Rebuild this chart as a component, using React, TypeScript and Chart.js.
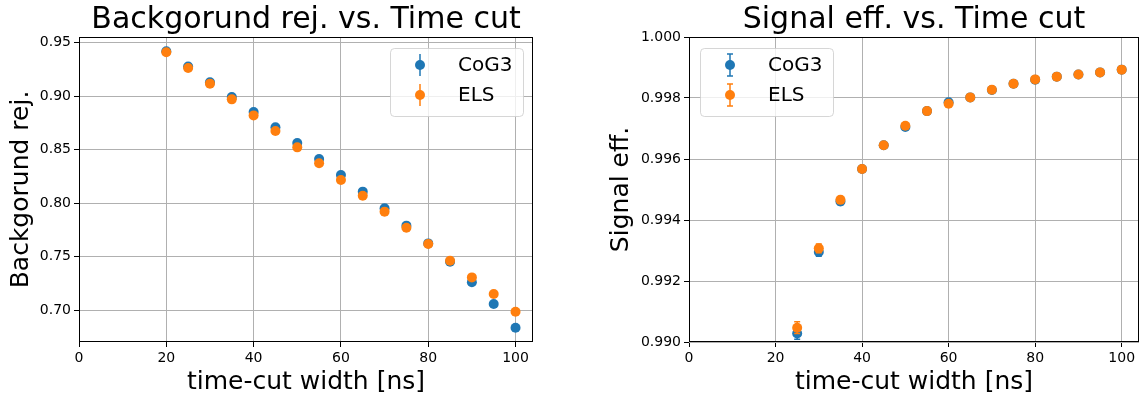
import React, { useEffect, useRef } from "react";
import { Chart, registerables } from "chart.js";

Chart.register(...registerables);

const FONT = "'DejaVu Sans', 'Noto Sans', sans-serif";
const BLUE = "#1f77b4";
const ORANGE = "#ff7f0e";

// Background rejection vs. time-cut width
const timeCut = [20, 25, 30, 35, 40, 45, 50, 55, 60, 65, 70, 75, 80, 85, 90, 95, 100];
const bgRejCoG3 = [0.9419, 0.9276, 0.9129, 0.8992, 0.8852, 0.8708, 0.8562, 0.8412, 0.8262, 0.8107, 0.7951, 0.7789, 0.7623, 0.7452, 0.7259, 0.7056, 0.6835];
const bgRejELS = [0.941, 0.9263, 0.9117, 0.897, 0.882, 0.8674, 0.8521, 0.8372, 0.8216, 0.8069, 0.792, 0.777, 0.7617, 0.7461, 0.7305, 0.715, 0.6984];
const bgRejCoG3Err = [0.0015, 0.0015, 0.0016, 0.0016, 0.0017, 0.0017, 0.0018, 0.0018, 0.0019, 0.0019, 0.002, 0.002, 0.0021, 0.0021, 0.0022, 0.0022, 0.0023];
const bgRejELSErr = [0.0015, 0.0015, 0.0016, 0.0016, 0.0017, 0.0017, 0.0018, 0.0018, 0.0019, 0.0019, 0.002, 0.002, 0.0021, 0.0021, 0.0022, 0.0022, 0.0023];

// Signal efficiency vs. time-cut width
const sigTimeCut = [25, 30, 35, 40, 45, 50, 55, 60, 65, 70, 75, 80, 85, 90, 95, 100];
const sigEffCoG3 = [0.99028, 0.99295, 0.99461, 0.99567, 0.99645, 0.99705, 0.99757, 0.99786, 0.99802, 0.99826, 0.99847, 0.9986, 0.9987, 0.99877, 0.99884, 0.99893];
const sigEffELS = [0.99047, 0.99307, 0.99466, 0.99567, 0.99645, 0.99709, 0.99757, 0.99781, 0.99802, 0.99827, 0.99847, 0.99861, 0.9987, 0.99877, 0.99884, 0.99893];
const sigEffCoG3Err = [0.00019, 0.00014, 0.00011, 0.00009, 0.00008, 0.00007, 0.00006, 0.00006, 0.00005, 0.00005, 0.00005, 0.00004, 0.00004, 0.00004, 0.00004, 0.00004];
const sigEffELSErr = [0.00019, 0.00014, 0.00011, 0.00009, 0.00008, 0.00007, 0.00006, 0.00006, 0.00005, 0.00005, 0.00005, 0.00004, 0.00004, 0.00004, 0.00004, 0.00004];

const seriesNames = ["CoG3", "ELS"];
const xTicks = [0, 20, 40, 60, 80, 100];
const bgTicks = [0.7, 0.75, 0.8, 0.85, 0.9, 0.95];
const sigTicks = [0.99, 0.992, 0.994, 0.996, 0.998, 1.0];

// vertical error bars, drawn just before each dataset's markers
const errorBarPlugin = {
  id: "errorBars",
  beforeDatasetDraw(chart: any, args: any, opts: any) {
    const ds = chart.data.datasets[args.index];
    const err: number[] | undefined = ds.errors;
    if (!err) return;
    const ys = chart.scales.y;
    const { ctx, chartArea } = chart;
    const cap = opts.cap || 0;
    ctx.save();
    ctx.beginPath();
    ctx.rect(chartArea.left, chartArea.top, chartArea.right - chartArea.left, chartArea.bottom - chartArea.top);
    ctx.clip();
    ctx.strokeStyle = ds.backgroundColor;
    ctx.lineWidth = 1.5;
    ctx.beginPath();
    args.meta.data.forEach((pt: any, i: number) => {
      const v = ds.data[i].y;
      const top = ys.getPixelForValue(v + err[i]);
      const bot = ys.getPixelForValue(v - err[i]);
      ctx.moveTo(pt.x, top);
      ctx.lineTo(pt.x, bot);
      if (cap) {
        ctx.moveTo(pt.x - cap, top);
        ctx.lineTo(pt.x + cap, top);
        ctx.moveTo(pt.x - cap, bot);
        ctx.lineTo(pt.x + cap, bot);
      }
    });
    ctx.stroke();
    ctx.restore();
  },
};

// axes frame and an in-plot legend box
const framePlugin = {
  id: "frameLegend",
  afterDraw(chart: any, _args: any, opts: any) {
    const { ctx, chartArea } = chart;
    const l = Math.round(chartArea.left) + 0.5;
    const t = Math.round(chartArea.top) + 0.5;
    const r = Math.round(chartArea.right) - 0.5;
    const b = Math.round(chartArea.bottom) - 0.5;
    ctx.save();
    ctx.strokeStyle = "#000";
    ctx.lineWidth = 1;
    ctx.strokeRect(l, t, r - l, b - t);

    const w = 133;
    const h = 68;
    const bx = opts.side === "right" ? chartArea.right - 10 - w : chartArea.left + 11;
    const by = chartArea.top + 11;
    ctx.beginPath();
    ctx.roundRect(bx + 0.5, by + 0.5, w, h, 4);
    ctx.fillStyle = "rgba(255,255,255,0.8)";
    ctx.fill();
    ctx.strokeStyle = "rgba(204,204,204,0.8)";
    ctx.stroke();

    const cap = opts.cap || 0;
    chart.data.datasets.forEach((ds: any, i: number) => {
      const cx = bx + 30;
      const cy = by + 17 + i * 30;
      ctx.strokeStyle = ds.backgroundColor;
      ctx.lineWidth = 1.5;
      ctx.beginPath();
      ctx.moveTo(cx, cy - 11);
      ctx.lineTo(cx, cy + 11);
      if (cap) {
        ctx.moveTo(cx - cap, cy - 11);
        ctx.lineTo(cx + cap, cy - 11);
        ctx.moveTo(cx - cap, cy + 11);
        ctx.lineTo(cx + cap, cy + 11);
      }
      ctx.stroke();
      ctx.beginPath();
      ctx.arc(cx, cy, 5, 0, Math.PI * 2);
      ctx.fillStyle = ds.backgroundColor;
      ctx.fill();
      ctx.fillStyle = "#000";
      ctx.font = `20px ${FONT}`;
      ctx.textBaseline = "middle";
      ctx.textAlign = "left";
      ctx.fillText(ds.label, bx + 68, cy + 1);
    });
    ctx.restore();
  },
};

type PanelProps = {
  title: string;
  yTitle: string;
  xs: number[];
  ys: number[][];
  errs: number[][];
  yMin: number;
  yMax: number;
  yTicks: number[];
  yDecimals: number;
  yAxisWidth: number;
  yTitlePad: number;
  legendSide: "left" | "right";
  cap: number;
  width: number;
  padRight: number;
};

function Panel(p: PanelProps) {
  const ref = useRef<HTMLCanvasElement | null>(null);
  useEffect(() => {
    if (!ref.current) return;
    const colors = [BLUE, ORANGE];
    const chart = new Chart(ref.current, {
      type: "scatter",
      data: {
        datasets: p.ys.map((vals, k) => ({
          label: seriesNames[k],
          data: p.xs.map((x, i) => ({ x, y: vals[i] })),
          errors: p.errs[k],
          backgroundColor: colors[k],
          borderColor: colors[k],
          pointRadius: 5,
          pointBorderWidth: 0,
          pointHoverRadius: 5,
          order: 1 - k,
        })) as any,
      },
      options: {
        animation: false,
        responsive: false,
        events: [],
        layout: { padding: { left: 0, right: p.padRight, top: 0, bottom: 0 } },
        plugins: {
          legend: { display: false },
          tooltip: { enabled: false },
          title: {
            display: true,
            text: p.title,
            color: "#000",
            fullSize: false,
            font: { family: FONT, size: 30, weight: "normal", lineHeight: 1 },
            padding: { top: 5, bottom: 2 },
          },
          errorBars: { cap: p.cap },
          frameLegend: { side: p.legendSide, cap: p.cap },
        } as any,
        scales: {
          x: {
            type: "linear",
            min: 0,
            max: 104,
            afterBuildTicks: (axis: any) => {
              axis.ticks = xTicks.map((value) => ({ value }));
            },
            afterFit: (axis: any) => {
              axis.height = 55;
            },
            ticks: {
              color: "#000",
              font: { family: FONT, size: 14 },
              padding: 3,
              maxRotation: 0,
              callback: (v: any) => String(v),
            },
            grid: { color: "#b0b0b0", lineWidth: 1, tickLength: 5, tickColor: "#000" },
            border: { display: false },
            title: {
              display: true,
              text: "time-cut width [ns]",
              color: "#000",
              font: { family: FONT, size: 25 },
              padding: { top: 0, bottom: 0 },
            },
          },
          y: {
            type: "linear",
            min: p.yMin,
            max: p.yMax,
            afterBuildTicks: (axis: any) => {
              axis.ticks = p.yTicks.map((value) => ({ value }));
            },
            afterFit: (axis: any) => {
              axis.width = p.yAxisWidth;
            },
            ticks: {
              color: "#000",
              font: { family: FONT, size: 14 },
              padding: 3,
              callback: (v: any) => Number(v).toFixed(p.yDecimals),
            },
            grid: { color: "#b0b0b0", lineWidth: 1, tickLength: 5, tickColor: "#000" },
            border: { display: false },
            title: {
              display: true,
              text: p.yTitle,
              color: "#000",
              font: { family: FONT, size: 25 },
              padding: { top: p.yTitlePad, bottom: 0 },
            },
          },
        },
      },
      plugins: [errorBarPlugin, framePlugin],
    });
    return () => chart.destroy();
  }, []);
  return <canvas ref={ref} width={p.width} height={397} style={{ display: "block", width: p.width, height: 397 }} />;
}

export default function App() {
  return (
    <div style={{ position: "fixed", left: 0, top: 0, width: 1144, height: 397, background: "#fff" }}>
      <div style={{ position: "absolute", left: 0, top: 0 }}>
        <Panel
          title="Backgorund rej. vs. Time cut"
          yTitle="Backgorund rej."
          xs={timeCut}
          ys={[bgRejCoG3, bgRejELS]}
          errs={[bgRejCoG3Err, bgRejELSErr]}
          yMin={0.6701}
          yMax={0.9553}
          yTicks={bgTicks}
          yDecimals={2}
          yAxisWidth={79}
          yTitlePad={6}
          legendSide="right"
          cap={0}
          width={540}
          padRight={7}
        />
      </div>
      <div style={{ position: "absolute", left: 580, top: 0 }}>
        <Panel
          title="Signal eff. vs. Time cut"
          yTitle="Signal eff."
          xs={sigTimeCut}
          ys={[sigEffCoG3, sigEffELS]}
          errs={[sigEffCoG3Err, sigEffELSErr]}
          yMin={0.99}
          yMax={1.0}
          yTicks={sigTicks}
          yDecimals={3}
          yAxisWidth={109}
          yTitlePad={26}
          legendSide="left"
          cap={3}
          width={564}
          padRight={1}
        />
      </div>
    </div>
  );
}
